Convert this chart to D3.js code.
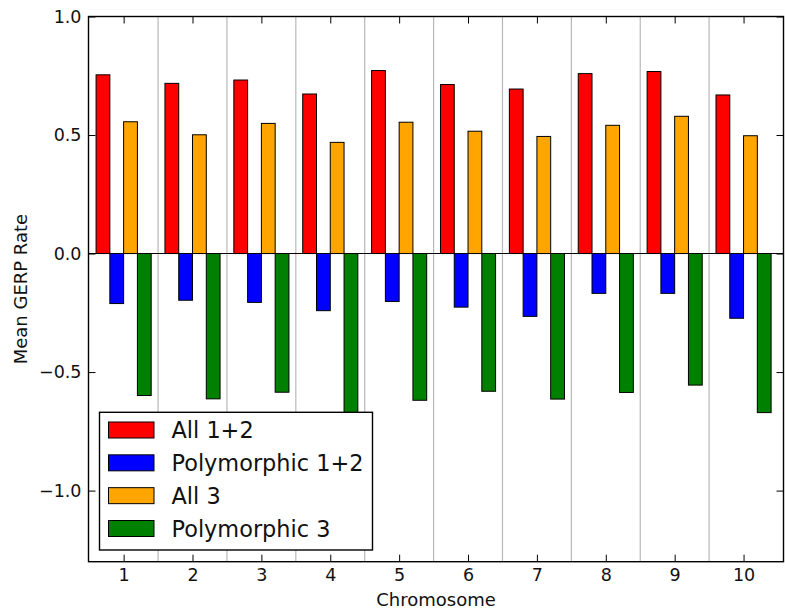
<!DOCTYPE html>
<html>
<head>
<meta charset="utf-8">
<script src="https://cdn.jsdelivr.net/npm/d3@7"></script>
<style>
  html, body { margin: 0; padding: 0; background: #fff; }
  svg { display: block; }
  text { font-family: "DejaVu Sans", sans-serif; fill: #111; }
</style>
</head>
<body>
<svg id="chart" width="785" height="610"></svg>
<script>
// Mean GERP rate per chromosome, four site classes
const chromosomes = [1, 2, 3, 4, 5, 6, 7, 8, 9, 10];
const all12  = [0.754, 0.718, 0.732, 0.673, 0.772, 0.713, 0.694, 0.759, 0.768, 0.669];
const poly12 = [-0.211, -0.197, -0.206, -0.241, -0.202, -0.226, -0.265, -0.168, -0.168, -0.273];
const all3   = [0.556, 0.501, 0.549, 0.469, 0.554, 0.516, 0.494, 0.541, 0.579, 0.497];
const poly3  = [-0.599, -0.613, -0.585, -0.690, -0.619, -0.581, -0.614, -0.586, -0.555, -0.671];

const seriesNames  = ["All 1+2", "Polymorphic 1+2", "All 3", "Polymorphic 3"];
const seriesValues = [all12, poly12, all3, poly3];
const seriesColors = ["#ff0000", "#0000ff", "#ffa500", "#008000"];
const yTickValues  = [-1.0, -0.5, 0.0, 0.5, 1.0];
const groupDividers = [1.5, 2.5, 3.5, 4.5, 5.5, 6.5, 7.5, 8.5, 9.5];

const barWidth = 0.2;
const barOffsets = [-0.4, -0.2, 0.0, 0.2];

const svg = d3.select("#chart");
const L = 88.5, T = 16.5, R = 783.5, B = 561.7;

const x = d3.scaleLinear().domain([0.49, 10.58]).range([L, R]);
const y = d3.scaleLinear().domain([-1.3, 1.0]).range([B, T]);

// group divider lines
svg.append("g").selectAll("line").data(groupDividers).join("line")
  .attr("x1", d => x(d)).attr("x2", d => x(d))
  .attr("y1", T).attr("y2", B)
  .attr("stroke", "#b8b8b8").attr("stroke-width", 1.2);

// bars
const bars = [];
seriesValues.forEach((vals, s) => {
  vals.forEach((v, i) => bars.push({ s, c: chromosomes[i], v }));
});
svg.append("g").selectAll("rect").data(bars).join("rect")
  .attr("x", d => x(d.c + barOffsets[d.s]))
  .attr("width", d => x(d.c + barOffsets[d.s] + barWidth) - x(d.c + barOffsets[d.s]))
  .attr("y", d => y(Math.max(0, d.v)))
  .attr("height", d => Math.abs(y(d.v) - y(0)))
  .attr("fill", d => seriesColors[d.s])
  .attr("stroke", "#000").attr("stroke-width", 1);

// zero line
svg.append("line")
  .attr("x1", L).attr("x2", R).attr("y1", y(0)).attr("y2", y(0))
  .attr("stroke", "#000").attr("stroke-width", 1.1);

// axes: inward ticks on all four sides
const tickLen = 7;
const fmt = d3.format(".1f");

const gLeft = svg.append("g").attr("transform", `translate(${L},0)`)
  .call(d3.axisLeft(y).tickValues(yTickValues).tickFormat(fmt)
        .tickSizeInner(-tickLen).tickSizeOuter(0).tickPadding(7));
const gRight = svg.append("g").attr("transform", `translate(${R},0)`)
  .call(d3.axisRight(y).tickValues(yTickValues).tickFormat("")
        .tickSizeInner(-tickLen).tickSizeOuter(0));
const gBottom = svg.append("g").attr("transform", `translate(0,${B})`)
  .call(d3.axisBottom(x).tickValues(chromosomes).tickFormat(d3.format("d"))
        .tickSizeInner(-tickLen).tickSizeOuter(0).tickPadding(7));
const gTop = svg.append("g").attr("transform", `translate(0,${T})`)
  .call(d3.axisTop(x).tickValues(chromosomes).tickFormat("")
        .tickSizeInner(-tickLen).tickSizeOuter(0));

[gLeft, gRight, gBottom, gTop].forEach(g => {
  g.select(".domain").remove();
  g.selectAll(".tick line").attr("stroke", "#000").attr("stroke-width", 1);
  g.selectAll("text").attr("font-family", "DejaVu Sans").attr("font-size", 17.5).attr("fill", "#111");
});

// frame
svg.append("rect")
  .attr("x", L).attr("y", T).attr("width", R - L).attr("height", B - T)
  .attr("fill", "none").attr("stroke", "#000").attr("stroke-width", 1.4);

// axis titles
svg.append("text")
  .attr("x", (L + R) / 2).attr("y", 605.5)
  .attr("text-anchor", "middle").attr("font-size", 18)
  .text("Chromosome");
svg.append("text")
  .attr("transform", `translate(27,${(T + B) / 2}) rotate(-90)`)
  .attr("text-anchor", "middle").attr("font-size", 18)
  .text("Mean GERP Rate");

// legend
const legend = svg.append("g");
legend.append("rect")
  .attr("x", 99.5).attr("y", 412.3).attr("width", 273).attr("height", 137.7)
  .attr("fill", "#fff").attr("stroke", "#000").attr("stroke-width", 1.4);
const rowY = d3.scalePoint().domain(seriesNames).range([430, 528.5]);
const rows = legend.selectAll("g.row").data(seriesNames).join("g")
  .attr("class", "row")
  .attr("transform", d => `translate(0,${rowY(d)})`);
rows.append("rect")
  .attr("x", 108.5).attr("y", -8).attr("width", 45.5).attr("height", 16)
  .attr("fill", (d, i) => seriesColors[i])
  .attr("stroke", "#000").attr("stroke-width", 1);
rows.append("text")
  .attr("x", 171.5).attr("y", 0).attr("dy", "0.36em")
  .attr("font-size", 22.4)
  .text(d => d);
</script>
</body>
</html>
